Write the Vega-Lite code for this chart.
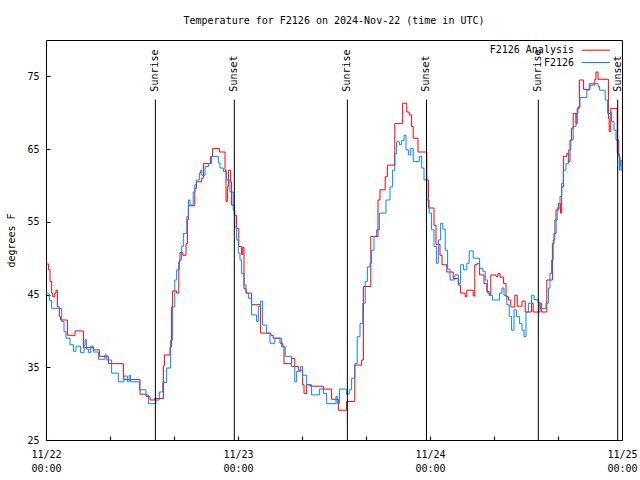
{
  "$schema": "https://vega.github.io/schema/vega-lite/v6.json",
  "width": 576,
  "height": 400,
  "autosize": {"type": "none"},
  "padding": {"left": 46, "top": 40, "right": 18, "bottom": 40},
  "background": "white",
  "title": {"text": "Temperature for F2126 on 2024-Nov-22 (time in UTC)", "font": "DejaVu Sans Mono", "fontSize": 10, "fontWeight": "normal", "color": "black", "anchor": "middle", "offset": 14},
  "config": {
    "view": {"stroke": "black", "strokeWidth": 1},
    "axis": {"domain": false, "grid": false, "labelOverlap": false, "labelFont": "DejaVu Sans Mono", "labelFontSize": 10, "labelColor": "black", "tickColor": "black", "tickSize": -4, "tickWidth": 1, "titleFont": "DejaVu Sans Mono", "titleFontSize": 10, "titleFontWeight": "normal", "titleColor": "black"}
  },
  "datasets": {
    "temps": [
      {"s":"F2126 Analysis","h":0,"t":49.2},{"s":"F2126 Analysis","h":0.33,"t":48.4},{"s":"F2126 Analysis","h":0.5,"t":46.8},{"s":"F2126 Analysis","h":0.71,"t":45.2},{"s":"F2126 Analysis","h":0.83,"t":44.7},{"s":"F2126 Analysis","h":1.1,"t":45.2},{"s":"F2126 Analysis","h":1.25,"t":45.6},{"s":"F2126 Analysis","h":1.42,"t":43.3},{"s":"F2126 Analysis","h":1.67,"t":42.0},{"s":"F2126 Analysis","h":1.83,"t":41.5},{"s":"F2126 Analysis","h":2.67,"t":39.4},{"s":"F2126 Analysis","h":3.63,"t":40.0},{"s":"F2126 Analysis","h":4.67,"t":37.7},{"s":"F2126 Analysis","h":5.92,"t":37.4},{"s":"F2126 Analysis","h":6.67,"t":36.5},{"s":"F2126 Analysis","h":7.8,"t":35.5},{"s":"F2126 Analysis","h":9.67,"t":33.3},{"s":"F2126 Analysis","h":11.75,"t":31.3},{"s":"F2126 Analysis","h":12.5,"t":31.0},{"s":"F2126 Analysis","h":13.0,"t":30.5},{"s":"F2126 Analysis","h":13.6,"t":30.7},{"s":"F2126 Analysis","h":14.67,"t":35.2},{"s":"F2126 Analysis","h":14.8,"t":36.7},{"s":"F2126 Analysis","h":15.5,"t":37.8},{"s":"F2126 Analysis","h":15.7,"t":43.3},{"s":"F2126 Analysis","h":15.83,"t":45.5},{"s":"F2126 Analysis","h":16.33,"t":45.2},{"s":"F2126 Analysis","h":16.6,"t":49.5},{"s":"F2126 Analysis","h":16.75,"t":50.8},{"s":"F2126 Analysis","h":17.1,"t":50.4},{"s":"F2126 Analysis","h":17.5,"t":52.0},{"s":"F2126 Analysis","h":17.67,"t":55.3},{"s":"F2126 Analysis","h":17.8,"t":57.2},{"s":"F2126 Analysis","h":18.6,"t":59.6},{"s":"F2126 Analysis","h":18.8,"t":60.5},{"s":"F2126 Analysis","h":19.46,"t":61.0},{"s":"F2126 Analysis","h":19.67,"t":63.0},{"s":"F2126 Analysis","h":20.58,"t":64.0},{"s":"F2126 Analysis","h":20.83,"t":65.1},{"s":"F2126 Analysis","h":21.67,"t":64.6},{"s":"F2126 Analysis","h":22.38,"t":62.1},{"s":"F2126 Analysis","h":22.5,"t":57.8},{"s":"F2126 Analysis","h":22.67,"t":59.8},{"s":"F2126 Analysis","h":22.8,"t":62.1},{"s":"F2126 Analysis","h":23.08,"t":60.5},{"s":"F2126 Analysis","h":23.2,"t":57.3},{"s":"F2126 Analysis","h":23.54,"t":55.9},{"s":"F2126 Analysis","h":23.83,"t":54.1},{"s":"F2126 Analysis","h":24.1,"t":51.6},{"s":"F2126 Analysis","h":24.45,"t":50.5},{"s":"F2126 Analysis","h":24.6,"t":51.5},{"s":"F2126 Analysis","h":24.75,"t":45.8},{"s":"F2126 Analysis","h":25.0,"t":45.2},{"s":"F2126 Analysis","h":25.7,"t":43.6},{"s":"F2126 Analysis","h":26.83,"t":39.7},{"s":"F2126 Analysis","h":28.1,"t":39.4},{"s":"F2126 Analysis","h":28.4,"t":39.0},{"s":"F2126 Analysis","h":29.25,"t":38.3},{"s":"F2126 Analysis","h":29.6,"t":37.9},{"s":"F2126 Analysis","h":29.75,"t":35.5},{"s":"F2126 Analysis","h":30.7,"t":36.2},{"s":"F2126 Analysis","h":31.1,"t":35.1},{"s":"F2126 Analysis","h":31.54,"t":34.6},{"s":"F2126 Analysis","h":32.08,"t":32.6},{"s":"F2126 Analysis","h":32.25,"t":31.4},{"s":"F2126 Analysis","h":32.58,"t":32.6},{"s":"F2126 Analysis","h":33.0,"t":32.4},{"s":"F2126 Analysis","h":34.67,"t":32.0},{"s":"F2126 Analysis","h":35.7,"t":30.6},{"s":"F2126 Analysis","h":36.54,"t":29.1},{"s":"F2126 Analysis","h":37.58,"t":30.3},{"s":"F2126 Analysis","h":38.6,"t":35.3},{"s":"F2126 Analysis","h":39.46,"t":36.0},{"s":"F2126 Analysis","h":39.67,"t":46.1},{"s":"F2126 Analysis","h":40.6,"t":53.0},{"s":"F2126 Analysis","h":41.5,"t":58.0},{"s":"F2126 Analysis","h":41.75,"t":59.4},{"s":"F2126 Analysis","h":42.4,"t":61.2},{"s":"F2126 Analysis","h":42.67,"t":62.8},{"s":"F2126 Analysis","h":43.6,"t":68.5},{"s":"F2126 Analysis","h":44.58,"t":71.3},{"s":"F2126 Analysis","h":45.1,"t":70.1},{"s":"F2126 Analysis","h":45.4,"t":69.7},{"s":"F2126 Analysis","h":45.7,"t":68.1},{"s":"F2126 Analysis","h":45.9,"t":66.5},{"s":"F2126 Analysis","h":46.5,"t":64.6},{"s":"F2126 Analysis","h":47.6,"t":60.75},{"s":"F2126 Analysis","h":47.8,"t":56.9},{"s":"F2126 Analysis","h":48.5,"t":54.5},{"s":"F2126 Analysis","h":48.75,"t":51.9},{"s":"F2126 Analysis","h":49.25,"t":50.4},{"s":"F2126 Analysis","h":49.5,"t":49.1},{"s":"F2126 Analysis","h":50.1,"t":48.1},{"s":"F2126 Analysis","h":50.9,"t":47.2},{"s":"F2126 Analysis","h":51.54,"t":46.3},{"s":"F2126 Analysis","h":51.83,"t":45.2},{"s":"F2126 Analysis","h":52.4,"t":44.7},{"s":"F2126 Analysis","h":52.6,"t":45.6},{"s":"F2126 Analysis","h":53.4,"t":44.8},{"s":"F2126 Analysis","h":53.6,"t":49.1},{"s":"F2126 Analysis","h":53.9,"t":49.3},{"s":"F2126 Analysis","h":54.2,"t":47.7},{"s":"F2126 Analysis","h":54.75,"t":46.5},{"s":"F2126 Analysis","h":55.1,"t":45.4},{"s":"F2126 Analysis","h":55.4,"t":44.9},{"s":"F2126 Analysis","h":55.6,"t":47.7},{"s":"F2126 Analysis","h":56.25,"t":47.5},{"s":"F2126 Analysis","h":56.5,"t":47.9},{"s":"F2126 Analysis","h":56.75,"t":47.4},{"s":"F2126 Analysis","h":57.2,"t":46.5},{"s":"F2126 Analysis","h":57.5,"t":44.7},{"s":"F2126 Analysis","h":57.8,"t":44.25},{"s":"F2126 Analysis","h":58.1,"t":43.3},{"s":"F2126 Analysis","h":58.6,"t":44.9},{"s":"F2126 Analysis","h":58.9,"t":43.4},{"s":"F2126 Analysis","h":59.5,"t":44.1},{"s":"F2126 Analysis","h":59.9,"t":42.6},{"s":"F2126 Analysis","h":60.7,"t":43.8},{"s":"F2126 Analysis","h":60.9,"t":42.6},{"s":"F2126 Analysis","h":61.75,"t":43.8},{"s":"F2126 Analysis","h":61.96,"t":42.6},{"s":"F2126 Analysis","h":62.6,"t":47.0},{"s":"F2126 Analysis","h":63.3,"t":52.0},{"s":"F2126 Analysis","h":63.5,"t":53.4},{"s":"F2126 Analysis","h":63.75,"t":56.6},{"s":"F2126 Analysis","h":64.04,"t":57.5},{"s":"F2126 Analysis","h":64.3,"t":56.2},{"s":"F2126 Analysis","h":64.46,"t":59.8},{"s":"F2126 Analysis","h":64.67,"t":64.0},{"s":"F2126 Analysis","h":65.1,"t":64.4},{"s":"F2126 Analysis","h":65.3,"t":63.3},{"s":"F2126 Analysis","h":65.5,"t":66.25},{"s":"F2126 Analysis","h":65.7,"t":67.9},{"s":"F2126 Analysis","h":65.9,"t":69.9},{"s":"F2126 Analysis","h":66.25,"t":68.5},{"s":"F2126 Analysis","h":66.4,"t":70.6},{"s":"F2126 Analysis","h":66.67,"t":74.5},{"s":"F2126 Analysis","h":67.2,"t":73.2},{"s":"F2126 Analysis","h":68.0,"t":73.8},{"s":"F2126 Analysis","h":68.6,"t":74.6},{"s":"F2126 Analysis","h":68.75,"t":75.6},{"s":"F2126 Analysis","h":69.0,"t":74.6},{"s":"F2126 Analysis","h":70.3,"t":69.2},{"s":"F2126 Analysis","h":70.4,"t":67.4},{"s":"F2126 Analysis","h":70.6,"t":70.6},{"s":"F2126 Analysis","h":71.4,"t":66.25},{"s":"F2126 Analysis","h":71.6,"t":64.0},{"s":"F2126 Analysis","h":71.75,"t":62.8},{"s":"F2126 Analysis","h":71.9,"t":62.8},
      {"s":"F2126","h":0,"t":45.1},{"s":"F2126","h":0.42,"t":44.2},{"s":"F2126","h":0.71,"t":43.1},{"s":"F2126","h":1.96,"t":41.3},{"s":"F2126","h":2.25,"t":39.9},{"s":"F2126","h":2.5,"t":39.0},{"s":"F2126","h":3.0,"t":38.1},{"s":"F2126","h":3.42,"t":37.2},{"s":"F2126","h":3.75,"t":37.9},{"s":"F2126","h":4.33,"t":37.0},{"s":"F2126","h":4.75,"t":38.0},{"s":"F2126","h":4.88,"t":38.8},{"s":"F2126","h":5.05,"t":37.5},{"s":"F2126","h":5.3,"t":37.0},{"s":"F2126","h":5.58,"t":37.9},{"s":"F2126","h":5.92,"t":37.1},{"s":"F2126","h":6.54,"t":36.1},{"s":"F2126","h":7.37,"t":36.7},{"s":"F2126","h":7.6,"t":36.0},{"s":"F2126","h":8.2,"t":34.2},{"s":"F2126","h":9.04,"t":33.0},{"s":"F2126","h":9.75,"t":33.8},{"s":"F2126","h":10.17,"t":33.0},{"s":"F2126","h":10.4,"t":33.9},{"s":"F2126","h":10.58,"t":33.0},{"s":"F2126","h":11.67,"t":31.9},{"s":"F2126","h":12.5,"t":31.2},{"s":"F2126","h":12.8,"t":30.0},{"s":"F2126","h":13.75,"t":30.5},{"s":"F2126","h":14.17,"t":31.6},{"s":"F2126","h":14.58,"t":32.9},{"s":"F2126","h":15.08,"t":34.9},{"s":"F2126","h":15.58,"t":38.75},{"s":"F2126","h":15.83,"t":43.3},{"s":"F2126","h":16.1,"t":47.0},{"s":"F2126","h":16.33,"t":48.4},{"s":"F2126","h":16.67,"t":49.75},{"s":"F2126","h":16.96,"t":51.6},{"s":"F2126","h":17.17,"t":53.4},{"s":"F2126","h":17.6,"t":55.7},{"s":"F2126","h":17.8,"t":58.0},{"s":"F2126","h":18.0,"t":57.3},{"s":"F2126","h":18.4,"t":59.1},{"s":"F2126","h":18.6,"t":60.1},{"s":"F2126","h":18.8,"t":60.75},{"s":"F2126","h":19.17,"t":61.7},{"s":"F2126","h":19.33,"t":62.1},{"s":"F2126","h":19.46,"t":61.4},{"s":"F2126","h":19.88,"t":62.6},{"s":"F2126","h":20.3,"t":63.0},{"s":"F2126","h":20.7,"t":64.0},{"s":"F2126","h":21.54,"t":63.1},{"s":"F2126","h":21.75,"t":62.4},{"s":"F2126","h":22.17,"t":61.9},{"s":"F2126","h":22.58,"t":60.75},{"s":"F2126","h":23.0,"t":59.1},{"s":"F2126","h":23.4,"t":56.6},{"s":"F2126","h":23.6,"t":54.3},{"s":"F2126","h":23.83,"t":52.5},{"s":"F2126","h":24.04,"t":50.7},{"s":"F2126","h":24.25,"t":49.75},{"s":"F2126","h":24.46,"t":47.9},{"s":"F2126","h":24.75,"t":46.3},{"s":"F2126","h":25.0,"t":45.2},{"s":"F2126","h":25.3,"t":44.5},{"s":"F2126","h":25.7,"t":42.2},{"s":"F2126","h":26.33,"t":41.3},{"s":"F2126","h":26.54,"t":43.4},{"s":"F2126","h":26.83,"t":44.1},{"s":"F2126","h":27.08,"t":40.8},{"s":"F2126","h":27.58,"t":39.7},{"s":"F2126","h":28.0,"t":38.3},{"s":"F2126","h":28.6,"t":39.0},{"s":"F2126","h":29.46,"t":37.8},{"s":"F2126","h":29.9,"t":36.5},{"s":"F2126","h":30.7,"t":35.1},{"s":"F2126","h":31.1,"t":33.0},{"s":"F2126","h":31.33,"t":34.4},{"s":"F2126","h":31.83,"t":35.1},{"s":"F2126","h":32.08,"t":33.9},{"s":"F2126","h":32.58,"t":32.6},{"s":"F2126","h":33.2,"t":31.2},{"s":"F2126","h":34.17,"t":32.0},{"s":"F2126","h":34.67,"t":31.4},{"s":"F2126","h":35.08,"t":30.0},{"s":"F2126","h":36.25,"t":31.0},{"s":"F2126","h":36.4,"t":30.0},{"s":"F2126","h":36.67,"t":32.0},{"s":"F2126","h":37.58,"t":31.3},{"s":"F2126","h":37.9,"t":31.9},{"s":"F2126","h":38.2,"t":33.5},{"s":"F2126","h":38.6,"t":35.5},{"s":"F2126","h":38.9,"t":39.2},{"s":"F2126","h":39.25,"t":41.0},{"s":"F2126","h":39.6,"t":43.8},{"s":"F2126","h":39.9,"t":46.8},{"s":"F2126","h":40.17,"t":48.8},{"s":"F2126","h":40.5,"t":49.3},{"s":"F2126","h":40.7,"t":51.1},{"s":"F2126","h":41.0,"t":53.0},{"s":"F2126","h":41.33,"t":53.9},{"s":"F2126","h":41.67,"t":56.2},{"s":"F2126","h":42.5,"t":58.0},{"s":"F2126","h":43.0,"t":59.8},{"s":"F2126","h":43.33,"t":62.1},{"s":"F2126","h":43.6,"t":64.4},{"s":"F2126","h":43.83,"t":66.0},{"s":"F2126","h":44.17,"t":65.6},{"s":"F2126","h":44.46,"t":66.2},{"s":"F2126","h":44.75,"t":66.9},{"s":"F2126","h":45.0,"t":64.9},{"s":"F2126","h":45.3,"t":64.2},{"s":"F2126","h":45.6,"t":65.1},{"s":"F2126","h":45.9,"t":63.3},{"s":"F2126","h":46.67,"t":64.0},{"s":"F2126","h":46.96,"t":62.4},{"s":"F2126","h":47.25,"t":60.75},{"s":"F2126","h":47.6,"t":58.0},{"s":"F2126","h":47.9,"t":56.2},{"s":"F2126","h":48.2,"t":53.9},{"s":"F2126","h":48.5,"t":51.6},{"s":"F2126","h":48.8,"t":49.3},{"s":"F2126","h":49.04,"t":52.5},{"s":"F2126","h":49.33,"t":54.8},{"s":"F2126","h":49.6,"t":54.0},{"s":"F2126","h":49.9,"t":51.1},{"s":"F2126","h":50.2,"t":48.5},{"s":"F2126","h":50.5,"t":47.0},{"s":"F2126","h":51.1,"t":47.7},{"s":"F2126","h":51.54,"t":46.5},{"s":"F2126","h":51.83,"t":49.1},{"s":"F2126","h":52.2,"t":48.4},{"s":"F2126","h":52.6,"t":49.3},{"s":"F2126","h":52.9,"t":51.0},{"s":"F2126","h":53.4,"t":50.0},{"s":"F2126","h":54.2,"t":48.6},{"s":"F2126","h":54.6,"t":48.2},{"s":"F2126","h":54.9,"t":47.0},{"s":"F2126","h":55.2,"t":45.2},{"s":"F2126","h":55.5,"t":44.9},{"s":"F2126","h":55.8,"t":44.25},{"s":"F2126","h":56.7,"t":45.2},{"s":"F2126","h":57.0,"t":45.9},{"s":"F2126","h":57.25,"t":44.9},{"s":"F2126","h":57.6,"t":43.6},{"s":"F2126","h":57.9,"t":42.0},{"s":"F2126","h":58.2,"t":40.1},{"s":"F2126","h":58.5,"t":42.9},{"s":"F2126","h":58.8,"t":42.0},{"s":"F2126","h":59.2,"t":41.0},{"s":"F2126","h":59.5,"t":40.1},{"s":"F2126","h":59.75,"t":39.2},{"s":"F2126","h":60.0,"t":42.6},{"s":"F2126","h":60.3,"t":43.8},{"s":"F2126","h":60.7,"t":44.9},{"s":"F2126","h":61.0,"t":44.3},{"s":"F2126","h":61.5,"t":43.9},{"s":"F2126","h":61.75,"t":43.1},{"s":"F2126","h":62.5,"t":43.8},{"s":"F2126","h":62.8,"t":45.9},{"s":"F2126","h":63.0,"t":47.9},{"s":"F2126","h":63.2,"t":49.75},{"s":"F2126","h":63.4,"t":52.5},{"s":"F2126","h":63.6,"t":55.25},{"s":"F2126","h":63.9,"t":56.9},{"s":"F2126","h":64.25,"t":58.5},{"s":"F2126","h":64.46,"t":60.3},{"s":"F2126","h":64.67,"t":62.1},{"s":"F2126","h":65.0,"t":63.0},{"s":"F2126","h":65.3,"t":64.9},{"s":"F2126","h":65.6,"t":66.25},{"s":"F2126","h":65.9,"t":68.1},{"s":"F2126","h":66.25,"t":69.9},{"s":"F2126","h":66.5,"t":70.8},{"s":"F2126","h":66.75,"t":72.1},{"s":"F2126","h":67.6,"t":73.1},{"s":"F2126","h":67.9,"t":74.0},{"s":"F2126","h":69.0,"t":73.6},{"s":"F2126","h":69.2,"t":73.1},{"s":"F2126","h":69.9,"t":71.75},{"s":"F2126","h":70.2,"t":69.9},{"s":"F2126","h":70.5,"t":70.0},{"s":"F2126","h":70.7,"t":68.8},{"s":"F2126","h":71.0,"t":67.6},{"s":"F2126","h":71.25,"t":66.25},{"s":"F2126","h":71.4,"t":64.4},{"s":"F2126","h":71.67,"t":62.1},{"s":"F2126","h":71.75,"t":63.5},{"s":"F2126","h":71.9,"t":62.0}
    ],
    "events": [
      {"h": 13.67, "label": "Sunrise"},
      {"h": 23.54, "label": "Sunset"},
      {"h": 37.67, "label": "Sunrise"},
      {"h": 47.56, "label": "Sunset"},
      {"h": 61.54, "label": "Sunrise"},
      {"h": 71.46, "label": "Sunset"}
    ],
    "one": [{"k": 1}]
  },
  "layer": [
    {
      "data": {"name": "temps"},
      "mark": {"type": "line", "interpolate": "step-after", "strokeWidth": 1},
      "encoding": {
        "x": {"field": "h", "type": "quantitative", "scale": {"domain": [0, 72], "nice": false, "zero": false},
          "axis": {"values": [0,2,4,6,8,10,12,14,16,18,20,22,24,26,28,30,32,34,36,38,40,42,44,46,48,50,52,54,56,58,60,62,64,66,68,70,72],
            "labelExpr": "datum.value % 6 == 0 ? ['11/' + (22 + floor(datum.value / 24)), (datum.value % 24 < 10 ? '0' : '') + (datum.value % 24) + ':00'] : ''",
            "labelPadding": 13, "labelBaseline": "top", "labelLineHeight": 14, "labelFlush": false, "labelOverlap": false, "title": null}},
        "y": {"field": "t", "type": "quantitative", "scale": {"domain": [25, 80], "nice": false, "zero": false},
          "axis": {"values": [25,30,35,40,45,50,55,60,65,70,75,80], "labelPadding": 11, "labelOverlap": false, "title": "degrees F", "titlePadding": 10}},
        "color": {"field": "s", "type": "nominal", "scale": {"domain": ["F2126 Analysis", "F2126"], "range": ["#ff0000", "#0088ff"]}, "legend": null}
      }
    },
    {
      "data": {"name": "events"},
      "mark": {"type": "rule", "color": "black", "strokeWidth": 1},
      "encoding": {
        "x": {"field": "h", "type": "quantitative",
          "axis": {"values": [0,2,4,6,8,10,12,14,16,18,20,22,24,26,28,30,32,34,36,38,40,42,44,46,48,50,52,54,56,58,60,62,64,66,68,70,72],
            "labelExpr": "datum.value % 6 == 0 ? ['11/' + (22 + floor(datum.value / 24)), (datum.value % 24 < 10 ? '0' : '') + (datum.value % 24) + ':00'] : ''",
            "labelPadding": 13, "labelBaseline": "top", "labelLineHeight": 14, "labelFlush": false, "labelOverlap": false, "title": null}},
        "y": {"datum": 25, "type": "quantitative",
          "axis": {"values": [25,30,35,40,45,50,55,60,65,70,75,80], "labelPadding": 11, "labelOverlap": false, "title": "degrees F", "titlePadding": 10}},
        "y2": {"datum": 71.8}
      }
    },
    {
      "data": {"name": "events"},
      "mark": {"type": "text", "angle": 270, "align": "left", "baseline": "middle", "font": "DejaVu Sans Mono", "fontSize": 10, "color": "black"},
      "encoding": {
        "x": {"field": "h", "type": "quantitative",
          "axis": {"values": [0,2,4,6,8,10,12,14,16,18,20,22,24,26,28,30,32,34,36,38,40,42,44,46,48,50,52,54,56,58,60,62,64,66,68,70,72],
            "labelExpr": "datum.value % 6 == 0 ? ['11/' + (22 + floor(datum.value / 24)), (datum.value % 24 < 10 ? '0' : '') + (datum.value % 24) + ':00'] : ''",
            "labelPadding": 13, "labelBaseline": "top", "labelLineHeight": 14, "labelFlush": false, "labelOverlap": false, "title": null}},
        "y": {"datum": 72.9, "type": "quantitative",
          "axis": {"values": [25,30,35,40,45,50,55,60,65,70,75,80], "labelPadding": 11, "labelOverlap": false, "title": "degrees F", "titlePadding": 10}},
        "text": {"field": "label"}
      }
    },
    {
      "data": {"name": "one"},
      "mark": {"type": "text", "align": "right", "baseline": "middle", "font": "DejaVu Sans Mono", "fontSize": 10, "color": "black"},
      "encoding": {
        "x": {"datum": 66.0, "type": "quantitative"},
        "y": {"datum": 78.6, "type": "quantitative"},
        "text": {"value": "F2126 Analysis"}
      }
    },
    {
      "data": {"name": "one"},
      "mark": {"type": "text", "align": "right", "baseline": "middle", "font": "DejaVu Sans Mono", "fontSize": 10, "color": "black"},
      "encoding": {
        "x": {"datum": 66.0, "type": "quantitative"},
        "y": {"datum": 76.9, "type": "quantitative"},
        "text": {"value": "F2126"}
      }
    },
    {
      "data": {"name": "one"},
      "mark": {"type": "rule", "strokeWidth": 1},
      "encoding": {
        "x": {"datum": 66.95, "type": "quantitative"},
        "x2": {"datum": 70.5},
        "y": {"datum": 78.6, "type": "quantitative"},
        "color": {"datum": "F2126 Analysis", "type": "nominal", "legend": null}
      }
    },
    {
      "data": {"name": "one"},
      "mark": {"type": "rule", "strokeWidth": 1},
      "encoding": {
        "x": {"datum": 66.95, "type": "quantitative"},
        "x2": {"datum": 70.5},
        "y": {"datum": 76.9, "type": "quantitative"},
        "color": {"datum": "F2126", "type": "nominal", "legend": null}
      }
    }
  ]
}
